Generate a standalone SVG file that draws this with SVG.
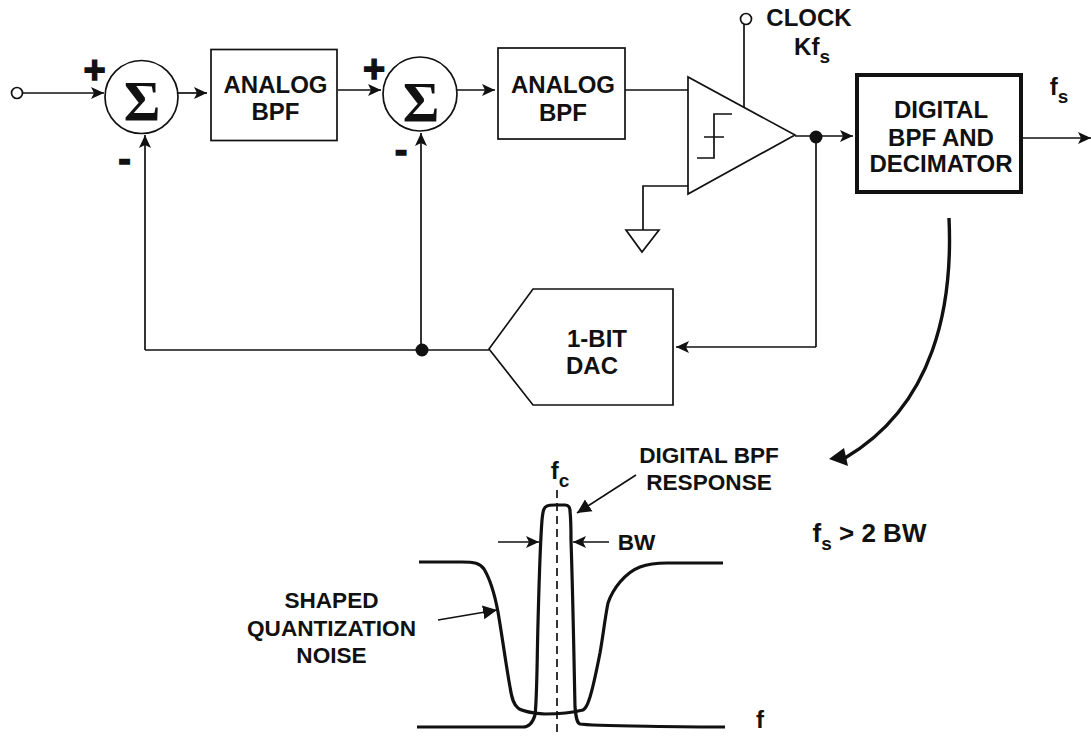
<svg xmlns="http://www.w3.org/2000/svg" width="1091" height="737" viewBox="0 0 1091 737">
<style>
text{font-family:"Liberation Sans",Arial,sans-serif;font-weight:700;font-size:24px;fill:#111;text-anchor:middle}
.sub{font-size:19px}
.mid{font-size:22.6px}
.sig{font-family:"Liberation Serif","Times New Roman",serif;font-size:56px}
.pm{font-size:38px;stroke:#111;stroke-width:1.3}
.n{fill:#fff;stroke:#111;stroke-width:1.7}
.w{fill:none;stroke:#111;stroke-width:1.7}
.c{fill:none;stroke:#111;stroke-width:3.2;stroke-linejoin:round}
.a{fill:none;stroke:#111;stroke-width:1.7;marker-end:url(#ah)}
.b{fill:none;stroke:#111;stroke-width:1.7;marker-end:url(#big)}
.d{fill:#111}
</style>
<defs>
<marker id="ah" markerUnits="userSpaceOnUse" markerWidth="15" markerHeight="14" refX="13" refY="7" orient="auto"><path d="M0,1L13,7L0,13L3,7Z" fill="#111"/></marker>
<marker id="big" markerUnits="userSpaceOnUse" markerWidth="16" markerHeight="16" refX="14" refY="8" orient="auto"><path d="M0,1L14,8L0,15Z" fill="#111"/></marker>
</defs>
<rect width="1091" height="737" fill="#fff"/>
<g id="connectors">
<path class="a" d="M22,93H104"/>
<path class="a" d="M178,93H207"/>
<path class="a" d="M338,90H381"/>
<path class="a" d="M457,90H495"/>
<path class="w" d="M625,90H688"/>
<path class="w" d="M744,25V107"/>
<path class="w" d="M688,186H643V230"/>
<path class="a" d="M795,136H853"/>
<path class="a" d="M1022,138H1091"/>
<path class="w" d="M816,136V347"/>
<path class="a" d="M816,347H676"/>
<path class="w" d="M489,350H145"/>
<path class="a" d="M145,350V135"/>
<path class="a" d="M421,350V133"/>
<circle class="d" cx="816" cy="137" r="6.5"/>
<circle class="d" cx="422" cy="350" r="6.5"/>
<path d="M949,218C953,305 935,405 845,458" fill="none" stroke="#111" stroke-width="3.4"/>
<path d="M829,459L844,448L848,466Z" fill="#111"/>
</g>
<g id="input"><circle class="n" cx="17" cy="93" r="5.5"/></g>
<g id="sum1"><circle class="n" cx="141.5" cy="97" r="36.5"/><text class="sig" x="142" y="121">Σ</text></g>
<g id="signs1"><text class="pm" x="94.5" y="83">+</text><text class="pm" x="124.5" y="172">-</text></g>
<g id="bpf1"><rect class="n" x="211" y="49.5" width="126" height="91"/><text x="275.5" y="93">ANALOG</text><text x="275.5" y="120">BPF</text></g>
<g id="sum2"><circle class="n" cx="420" cy="94" r="37"/><text class="sig" x="421" y="122">Σ</text></g>
<g id="signs2"><text class="pm" x="374" y="81.5">+</text><text class="pm" x="401" y="163">-</text></g>
<g id="bpf2"><rect class="n" x="498" y="48" width="127" height="91"/><text x="563" y="93">ANALOG</text><text x="563" y="121">BPF</text></g>
<g id="comparator"><path class="n" d="M688,77V194L795,135Z"/><path class="w" d="M732,114H714V158H697M704,137H724"/></g>
<g id="clock"><circle class="n" cx="746" cy="19" r="5.5"/><text x="809" y="26">CLOCK</text><text x="812" y="55">Kf<tspan class="sub" dy="8">s</tspan></text></g>
<g id="ground"><path class="n" d="M626,230H659L642,252Z"/></g>
<g id="decimator"><rect x="857" y="75" width="164" height="117" fill="#fff" stroke="#111" stroke-width="4"/><text x="941" y="118">DIGITAL</text><text x="941" y="146">BPF AND</text><text x="941" y="172">DECIMATOR</text></g>
<g id="fs"><text x="1059" y="95">f<tspan class="sub" dy="8">s</tspan></text></g>
<g id="dac"><path class="n" d="M489,349L533,289H673V405H533Z"/><text x="597" y="347">1-BIT</text><text x="592" y="374">DAC</text></g>
<g id="response">
<path class="c" d="M419,562H462C474,562 480,563 484,569C490,579 495,596 498,612C502,635 506,665 510,687C512,700 514,705 518,708C523,712 533,713 545,714C560,714 575,712 583,710C587,708 588,703 590,697C594,684 597,668 600,653C603,636 605,618 608,603C611,594 615,588 620,582C626,575 632,570 640,567C648,564 655,563 667,563H723"/>
<path class="c" d="M417,727H523C530,727 533,722 535,715C537,700 537,660 538,623C539,585 540,545 542,520C543,510 544,507 547,506C549,505 552,505 555,505H565C568,505 570,507 570,511C571,520 571,530 571,540C573,600 574,660 575,707C576,718 577,723 580,724C590,726 700,727 725,727"/>
<path d="M557,490V737" fill="none" stroke="#111" stroke-width="1.7" stroke-dasharray="8 5"/>
<path class="a" d="M498,542H539"/>
<path class="a" d="M609,542H573"/>
<path class="b" d="M438,620L497,610"/>
<path class="b" d="M636,475L577,513"/>
</g>
<g id="labels">
<text x="560" y="479">f<tspan class="sub" dy="8">c</tspan></text>
<text class="mid" x="709" y="463">DIGITAL BPF</text>
<text class="mid" x="709" y="490">RESPONSE</text>
<text class="mid" x="636.5" y="550">BW</text>
<text x="869.5" y="542" style="font-size:26px">f<tspan class="sub" dy="8">s</tspan><tspan dy="-8"> &gt; 2 BW</tspan></text>
<text class="mid" x="331.5" y="608">SHAPED</text>
<text class="mid" x="331.5" y="636">QUANTIZATION</text>
<text class="mid" x="331.5" y="663">NOISE</text>
<text x="760" y="728">f</text>
</g>
</svg>
